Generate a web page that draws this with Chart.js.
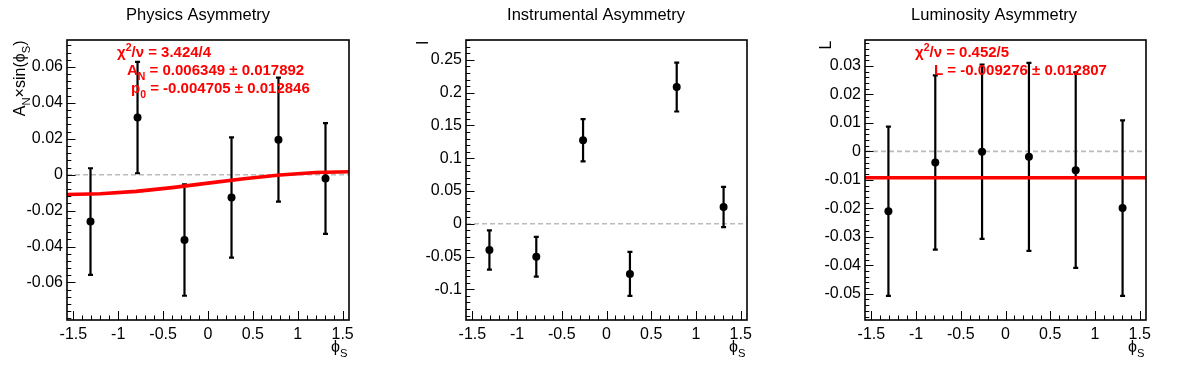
<!DOCTYPE html>
<html>
<head>
<meta charset="utf-8">
<script src="https://cdn.jsdelivr.net/npm/chart.js@4.4.1/dist/chart.umd.min.js"></script>
<style>
body{margin:0;background:#fff;}
#wrap{position:relative;width:1196px;height:372px;overflow:hidden;}
canvas{position:absolute;top:0;}
</style>
</head>
<body>
<div id="wrap">
  <canvas id="c1" width="398" height="372" style="left:0"></canvas>
  <canvas id="c2" width="398" height="372" style="left:398px"></canvas>
  <canvas id="c3" width="400" height="372" style="left:796px"></canvas>
</div>
<script>
// ---- data ----
const phiBins = [-1.309, -0.785, -0.262, 0.262, 0.785, 1.309];
const xTicks = [-1.5, -1, -0.5, 0, 0.5, 1, 1.5];
const xTickLabels = ['-1.5', '-1', '-0.5', '0', '0.5', '1', '1.5'];

const physVals = [-0.0261, 0.0318, -0.0364, -0.0127, 0.0195, -0.0021];
const physErrs = [0.0297, 0.0310, 0.0310, 0.0335, 0.0345, 0.0308];
const physFitX = [-1.5708, -1.2, -0.8, -0.4, 0, 0.4, 0.8, 1.2, 1.5708];
const physFitY = [-0.01105, -0.01062, -0.00926, -0.00718, -0.00471, -0.00223, -0.00015, 0.00121, 0.00164];
const physYTicks = [-0.06, -0.04, -0.02, 0, 0.02, 0.04, 0.06];
const physYTickLabels = ['-0.06', '-0.04', '-0.02', '0', '0.02', '0.04', '0.06'];

const instVals = [-0.0400, -0.0503, 0.1275, -0.0765, 0.2085, 0.0256];
const instErrs = [0.0300, 0.0302, 0.0322, 0.0335, 0.0373, 0.0306];
const instYTicks = [-0.1, -0.05, 0, 0.05, 0.1, 0.15, 0.2, 0.25];
const instYTickLabels = ['-0.1', '-0.05', '0', '0.05', '0.1', '0.15', '0.2', '0.25'];

const lumiVals = [-0.0210, -0.0039, -0.0001, -0.0019, -0.0066, -0.0199];
const lumiErrs = [0.0297, 0.0306, 0.0306, 0.0330, 0.0343, 0.0308];
const lumiFitX = [-1.5708, 1.5708];
const lumiFitY = [-0.009276, -0.009276];
const lumiYTicks = [-0.05, -0.04, -0.03, -0.02, -0.01, 0, 0.01, 0.02, 0.03];
const lumiYTickLabels = ['-0.05', '-0.04', '-0.03', '-0.02', '-0.01', '0', '0.01', '0.02', '0.03'];

const FONT = '"Liberation Sans", Arial, Helvetica, sans-serif';

// draw text made of pieces (normal / sub / sup)
function richWidth(ctx, parts, size, bold){
    let w = 0;
    parts.forEach(p=>{
        const fs = p.s ? size*0.7 : size;
        ctx.font = (bold?'bold ':'') + fs + 'px ' + FONT;
        w += ctx.measureText(p.t).width;
    });
    return w;
}
function rich(ctx, x, y, parts, size, bold){
    let cx = x;
    parts.forEach(p=>{
        const fs = p.s ? size*0.7 : size;
        ctx.font = (bold?'bold ':'') + fs + 'px ' + FONT;
        const dy = p.s==='sub' ? size*0.32 : (p.s==='sup' ? -size*0.38 : 0);
        ctx.fillText(p.t, cx, y+dy);
        cx += ctx.measureText(p.t).width;
    });
}

const rootStyle = {
    id:'rootStyle',
    beforeDatasetsDraw(chart, args, o){
        const ctx = chart.ctx, a = chart.chartArea;
        const xs = chart.scales.x, ys = chart.scales.y;
        // dashed zero line
        ctx.save();
        ctx.strokeStyle = '#bbbbbb';
        ctx.lineWidth = 1.6;
        ctx.setLineDash([5,3]);
        const y0 = ys.getPixelForValue(0);
        ctx.beginPath(); ctx.moveTo(a.left, y0); ctx.lineTo(a.right, y0); ctx.stroke();
        ctx.restore();
        // error bars
        ctx.save();
        ctx.strokeStyle = '#000';
        ctx.lineWidth = 2.2;
        o.vals.forEach((v,i)=>{
            const px = xs.getPixelForValue(phiBins[i]);
            const top = ys.getPixelForValue(v + o.errs[i]);
            const bot = ys.getPixelForValue(v - o.errs[i]);
            ctx.beginPath();
            ctx.moveTo(px, top); ctx.lineTo(px, bot);
            ctx.moveTo(px-2.5, top); ctx.lineTo(px+2.5, top);
            ctx.moveTo(px-2.5, bot); ctx.lineTo(px+2.5, bot);
            ctx.stroke();
        });
        ctx.restore();
    },
    afterDraw(chart, args, o){
        const ctx = chart.ctx, a = chart.chartArea;
        const xs = chart.scales.x, ys = chart.scales.y;
        ctx.save();
        // frame
        ctx.strokeStyle = '#000';
        ctx.lineWidth = 1.6;
        ctx.strokeRect(a.left, a.top, a.right-a.left, a.bottom-a.top);
        // ticks, ROOT style (inside)
        ctx.lineWidth = 1;
        ctx.beginPath();
        for(let i=-15;i<=15;i++){
            const px = Math.round(xs.getPixelForValue(i/10))+0.5;
            const len = (i%5===0) ? 9 : 4.5;
            ctx.moveTo(px, a.bottom); ctx.lineTo(px, a.bottom-len);
        }
        const st = o.minor;
        const i0 = Math.ceil(ys.min/st - 1e-6), i1 = Math.floor(ys.max/st + 1e-6);
        for(let i=i0;i<=i1;i++){
            const v = i*st;
            const py = Math.round(ys.getPixelForValue(v))+0.5;
            const major = o.yTicks.some(t=>Math.abs(t-v)<st/10);
            ctx.moveTo(a.left, py); ctx.lineTo(a.left + (major?8.5:4.3), py);
        }
        ctx.stroke();
        // title
        ctx.fillStyle = '#000';
        ctx.textAlign = 'center';
        ctx.textBaseline = 'alphabetic';
        ctx.font = '16.5px ' + FONT;
        ctx.fillText(o.title, 198, 20);
        ctx.textAlign = 'left';
        // x title phi_S, right aligned
        const xt = [{t:'ϕ'},{t:'S',s:'sub'}];
        const xw = richWidth(ctx, xt, 16, false);
        rich(ctx, a.right - 1.5 - xw, 352, xt, 16, false);
        // y title, rotated, right aligned at top
        const yw = richWidth(ctx, o.yTitle, 16, false);
        ctx.save();
        ctx.translate(o.yTitleX, 40.5 + yw);
        ctx.rotate(-Math.PI/2);
        rich(ctx, 0, 0, o.yTitle, 16, false);
        ctx.restore();
        // fit results
        ctx.fillStyle = '#ff0000';
        o.fitText.forEach(l=>rich(ctx, l.x, l.y, l.parts, 15, true));
        ctx.restore();
    }
};

function makePanel(id, cfg){
    new Chart(document.getElementById(id), {
        type:'scatter',
        data:{
            datasets:[
                {
                    data: cfg.fitX.map((x,i)=>({x:x, y:cfg.fitY[i]})),
                    showLine:true,
                    borderColor:'#ff0000',
                    borderWidth:3.6,
                    pointRadius:0,
                    order:0
                },
                {
                    data: phiBins.map((x,i)=>({x:x, y:cfg.vals[i]})),
                    backgroundColor:'#000',
                    borderColor:'#000',
                    pointRadius:4,
                    borderWidth:0,
                    order:1
                }
            ]
        },
        options:{
            responsive:false,
            animation:false,
            events:[],
            layout:{padding:{left:0, top:40, right:cfg.padR, bottom:0}},
            plugins:{
                legend:{display:false},
                tooltip:{enabled:false},
                rootStyle:{
                    vals:cfg.vals, errs:cfg.errs, title:cfg.title, minor:cfg.minor,
                    yTicks:cfg.yTicks, yTitle:cfg.yTitle, yTitleX:cfg.yTitleX, fitText:cfg.fitText
                }
            },
            scales:{
                x:{
                    type:'linear', min:-1.5708, max:1.5708,
                    grid:{display:false, drawTicks:false},
                    border:{display:false},
                    afterBuildTicks:s=>{ s.ticks = xTicks.map(v=>({value:v})); },
                    afterFit:s=>{ s.height = 52; },
                    ticks:{
                        padding:5, color:'#000', maxRotation:0, autoSkip:false,
                        font:{family:FONT, size:16},
                        callback:(v)=>xTickLabels[xTicks.indexOf(v)]
                    }
                },
                y:{
                    type:'linear', min:cfg.yMin, max:cfg.yMax,
                    grid:{display:false, drawTicks:false},
                    border:{display:false},
                    afterBuildTicks:s=>{ s.ticks = cfg.yTicks.map(v=>({value:v})); },
                    afterFit:s=>{ s.width = cfg.yw; },
                    ticks:{
                        padding:4, color:'#000', autoSkip:false,
                        font:{family:FONT, size:16},
                        callback:(v)=>cfg.yLabels[cfg.yTicks.indexOf(v)]
                    }
                }
            }
        },
        plugins:[rootStyle]
    });
}

makePanel('c1', {
    title:'Physics Asymmetry', vals:physVals, errs:physErrs,
    fitX:physFitX, fitY:physFitY,
    yMin:-0.0809, yMax:0.075, yTicks:physYTicks, yLabels:physYTickLabels, minor:0.004,
    yw:67, padR:49,
    yTitle:[{t:'A'},{t:'N',s:'sub'},{t:'×sin(ϕ'},{t:'S',s:'sub'},{t:')'}], yTitleX:25,
    fitText:[
        {x:117, y:57, parts:[{t:'χ'},{t:'2',s:'sup'},{t:'/ν = 3.424/4'}]},
        {x:127, y:75, parts:[{t:'A'},{t:'N',s:'sub'},{t:' = 0.006349 ± 0.017892'}]},
        {x:131, y:93, parts:[{t:'p'},{t:'0',s:'sub'},{t:' = -0.004705 ± 0.012846'}]}
    ]
});

makePanel('c2', {
    title:'Instrumental Asymmetry', vals:instVals, errs:instErrs,
    fitX:[], fitY:[],
    yMin:-0.1468, yMax:0.2803, yTicks:instYTicks, yLabels:instYTickLabels, minor:0.01,
    yw:68, padR:49,
    yTitle:[{t:'I'}], yTitleX:29.5,
    fitText:[]
});

makePanel('c3', {
    title:'Luminosity Asymmetry', vals:lumiVals, errs:lumiErrs,
    fitX:lumiFitX, fitY:lumiFitY,
    yMin:-0.0592, yMax:0.0391, yTicks:lumiYTicks, yLabels:lumiYTickLabels, minor:0.002,
    yw:69, padR:50,
    yTitle:[{t:'L'}], yTitleX:35,
    fitText:[
        {x:119, y:57, parts:[{t:'χ'},{t:'2',s:'sup'},{t:'/ν = 0.452/5'}]},
        {x:138, y:75, parts:[{t:'L = -0.009276 ± 0.012807'}]}
    ]
});
</script>
</body>
</html>
